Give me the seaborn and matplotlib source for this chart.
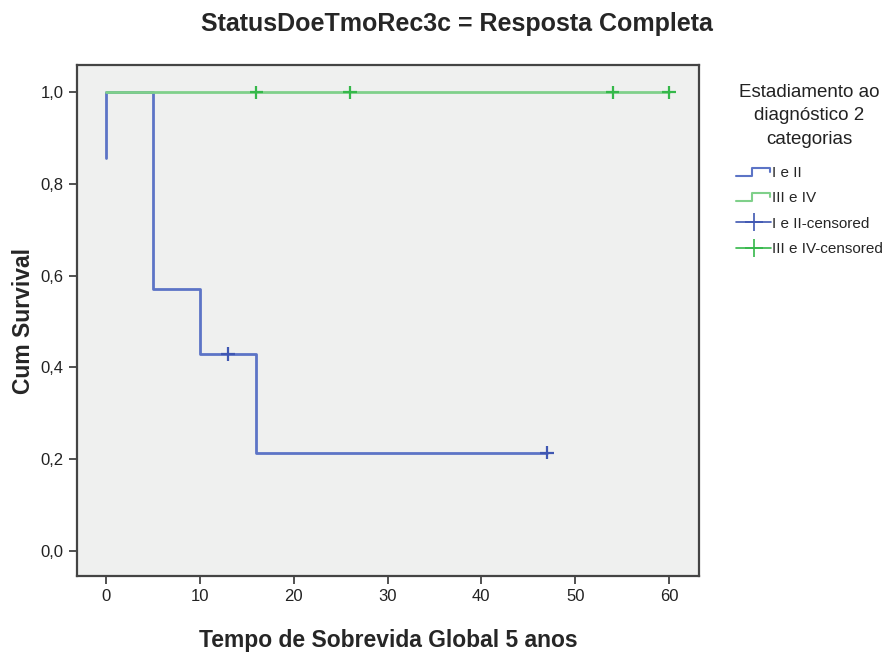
import numpy as np
import pandas as pd
import matplotlib
matplotlib.use('Agg')
import matplotlib.pyplot as plt
from matplotlib.lines import Line2D
from matplotlib.legend_handler import HandlerBase
import seaborn as sb

# survival steps
groups = ['I e II', 'III e IV']
times_1 = [0, 0, 5, 10, 16, 47]
surv_1 = [0.857, 1.0, 0.571, 0.429, 0.214, 0.214]
times_2 = [0, 60]
surv_2 = [1.0, 1.0]

cens_t_1 = [13, 47]
cens_s_1 = [0.429, 0.214]
cens_t_2 = [16, 26, 54, 60]
cens_s_2 = [1.0, 1.0, 1.0, 1.0]

x_ticks = [0, 10, 20, 30, 40, 50, 60]
y_ticks = [0.0, 0.2, 0.4, 0.6, 0.8, 1.0]
y_labels = ['0,0', '0,2', '0,4', '0,6', '0,8', '1,0']

line_colors = {'I e II': '#5c74c6', 'III e IV': '#7fd08a'}
cens_colors = {'I e II': '#3f57b2', 'III e IV': '#35b84a'}

steps = pd.DataFrame({
    'time': times_1 + times_2,
    'surv': surv_1 + surv_2,
    'grupo': [groups[0]] * len(times_1) + [groups[1]] * len(times_2),
})
cens = pd.DataFrame({
    'time': cens_t_1 + cens_t_2,
    'surv': cens_s_1 + cens_s_2,
    'grupo': [groups[0]] * len(cens_t_1) + [groups[1]] * len(cens_t_2),
})

sb.set_style('white')
plt.rcParams['font.family'] = ['Liberation Sans Narrow', 'Liberation Sans', 'DejaVu Sans']

fig = plt.figure(figsize=(8.95, 6.61), dpi=100)
ax = fig.add_axes([0.086, 0.1286, 0.695, 0.773])
ax.set_facecolor('#eff0ef')

sb.lineplot(data=steps, x='time', y='surv', hue='grupo', palette=line_colors,
            estimator=None, sort=False, drawstyle='steps-post', lw=2,
            legend=False, ax=ax)
sb.scatterplot(data=cens, x='time', y='surv', hue='grupo', palette=cens_colors,
               marker='+', s=90, linewidth=1.6, legend=False, ax=ax, zorder=3)

ax.set_xlim(-3.1, 63.2)
ax.set_ylim(-0.055, 1.059)
ax.set_xticks(x_ticks)
ax.set_yticks(y_ticks)
ax.set_yticklabels(y_labels)
ax.tick_params(axis='both', direction='out', length=6, width=1.2, color='#333333',
               labelsize=12, colors='#222222', left=True, bottom=True)
for sp in ax.spines.values():
    sp.set_color('#444444')
    sp.set_linewidth(1.6)

ax.set_xlabel('Tempo de Sobrevida Global 5 anos', fontsize=16.5, fontweight='bold', labelpad=18)
ax.set_ylabel('Cum Survival', fontsize=16.5, fontweight='bold', labelpad=4)
fig.suptitle('StatusDoeTmoRec3c = Resposta Completa', fontsize=18, fontweight='bold',
             x=0.51, y=0.982)


class StepHandler(HandlerBase):
    def create_artists(self, legend, orig_handle, xdescent, ydescent, width, height,
                       fontsize, trans):
        w, h = width, height
        xs = [-xdescent, 0.45 * w, 0.45 * w, 0.95 * w, 0.95 * w]
        ys = [0.1 * h, 0.1 * h, 0.85 * h, 0.85 * h, 0.45 * h]
        ln = Line2D(xs, ys, color=orig_handle.get_color(), lw=1.5)
        ln.set_transform(trans)
        return [ln]


h1 = Line2D([], [], color=line_colors['I e II'])
h2 = Line2D([], [], color=line_colors['III e IV'])
h3 = Line2D([], [], color=cens_colors['I e II'], marker='+', markersize=13, lw=1.2,
            markeredgewidth=1.2)
h4 = Line2D([], [], color=cens_colors['III e IV'], marker='+', markersize=13, lw=1.2,
            markeredgewidth=1.2)
leg = ax.legend([h1, h2, h3, h4],
                ['I e II', 'III e IV', 'I e II-censored', 'III e IV-censored'],
                handler_map={h1: StepHandler(), h2: StepHandler()},
                title='Estadiamento ao\ndiagnóstico 2\ncategorias',
                loc='upper left', bbox_to_anchor=(1.05, 0.975), frameon=False,
                fontsize=11, title_fontsize=13.5, handlelength=2.3, handletextpad=0.05,
                labelspacing=0.74, borderaxespad=0)
leg.get_title().set_multialignment('center')
leg.get_title().set_linespacing(1.5)
leg.get_title().set_color('#222222')
leg._legend_box.sep = 13

fig.savefig('out.png', dpi=100)
